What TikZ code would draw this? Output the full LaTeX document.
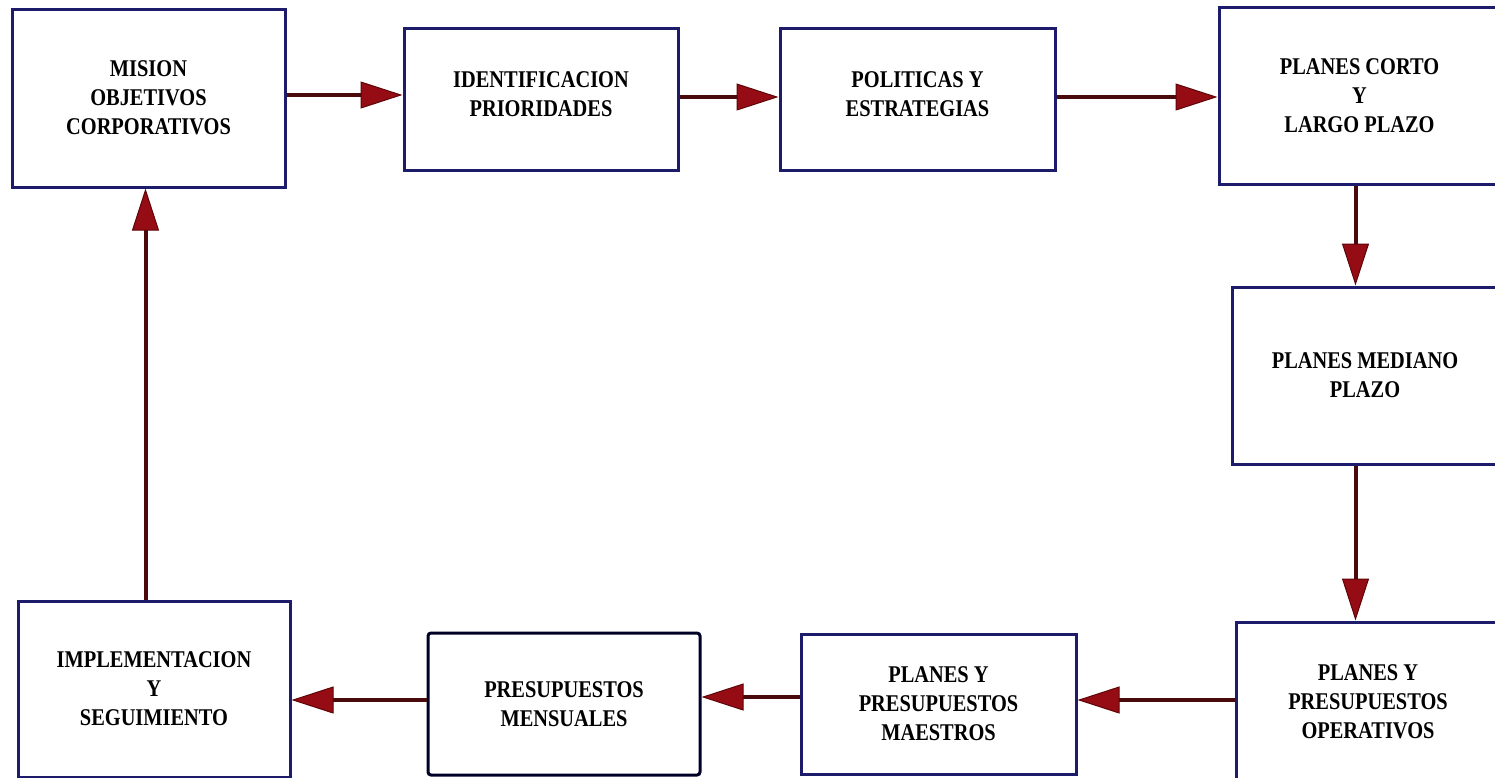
\documentclass[tikz,border=0pt]{standalone}
\usepackage{fontspec}
\setmainfont{Liberation Serif}[FakeStretch=0.85]
\usetikzlibrary{arrows.meta}
\definecolor{boxline}{HTML}{1C1C6A}
\definecolor{flowline}{HTML}{4A0A0C}
\definecolor{tipred}{HTML}{960C14}
\definecolor{tipdark}{HTML}{5E0508}
\tikzset{
  stage/.style={draw=boxline, line width=3pt, fill=white, align=center,
    inner sep=0pt, font=\fontsize{24}{29}\selectfont\bfseries},
  flow/.style={draw=flowline, line width=4pt,
    -{Triangle[length=42pt,width=27pt,fill=tipred,color=tipdark,line width=1pt]}},
}
\begin{document}
\begin{tikzpicture}[x=1pt,y=-1pt]
\useasboundingbox (0,0) rectangle (1495,777);
% top row
\node[stage, minimum width=273pt, minimum height=178pt] (mis) at (148.5,98)
  {MISION\\OBJETIVOS\\CORPORATIVOS};
\node[stage, minimum width=274pt, minimum height=142pt] (ide) at (541,99)
  {IDENTIFICACION\\PRIORIDADES\\[-20pt]\mbox{}};
\node[stage, minimum width=275pt, minimum height=142pt] (pol) at (917.5,99)
  {POLITICAS Y\\ESTRATEGIAS\\[-20pt]\mbox{}};
\node[stage, minimum width=281pt, minimum height=177pt] (pcl) at (1359.5,95.5)
  {PLANES CORTO\\Y\\LARGO PLAZO};
% right column
\node[stage, minimum width=266pt, minimum height=177pt] (pmp) at (1365,375.5)
  {PLANES MEDIANO\\PLAZO};
\node[stage, minimum width=264pt, minimum height=160pt] (ppo) at (1368,702)
  {PLANES Y\\PRESUPUESTOS\\OPERATIVOS};
% bottom row
\node[stage, minimum width=275pt, minimum height=140pt] (ppm) at (938.5,704)
  {PLANES Y\\PRESUPUESTOS\\MAESTROS};
\node[stage, draw=black!85!blue, rounded corners=3pt, minimum width=272pt,
  minimum height=142pt] (pme) at (564,704)
  {PRESUPUESTOS\\MENSUALES};
\node[stage, minimum width=272pt, minimum height=176pt] (imp) at (154,689)
  {IMPLEMENTACION\\Y\\SEGUIMIENTO};
% connectors
\draw[flow] ([yshift=3pt]mis.east) -- ([yshift=3pt]mis.east -| ide.west);
\draw[flow] ([yshift=2pt]ide.east) -- ([yshift=2pt]ide.east -| pol.west);
\draw[flow] ([yshift=2pt]pol.east) -- ([yshift=2pt]pol.east -| pcl.west);
\draw[flow] ([xshift=-4pt]pcl.south) -- ([xshift=-4pt]pcl.south |- pmp.north);
\draw[flow] ([xshift=-4pt]pcl.south |- pmp.south) -- ([xshift=-4pt]pcl.south |- ppo.north);
\draw[flow] ([yshift=2pt]ppo.west) -- ([yshift=2pt]ppo.west -| ppm.east);
\draw[flow] ([yshift=7pt]ppm.west) -- ([yshift=7pt]ppm.west -| pme.east);
\draw[flow] ([yshift=4pt]pme.west) -- ([yshift=4pt]pme.west -| imp.east);
\draw[flow] ([xshift=-3pt]mis.south |- imp.north) -- ([xshift=-3pt]mis.south);
\end{tikzpicture}
\end{document}
